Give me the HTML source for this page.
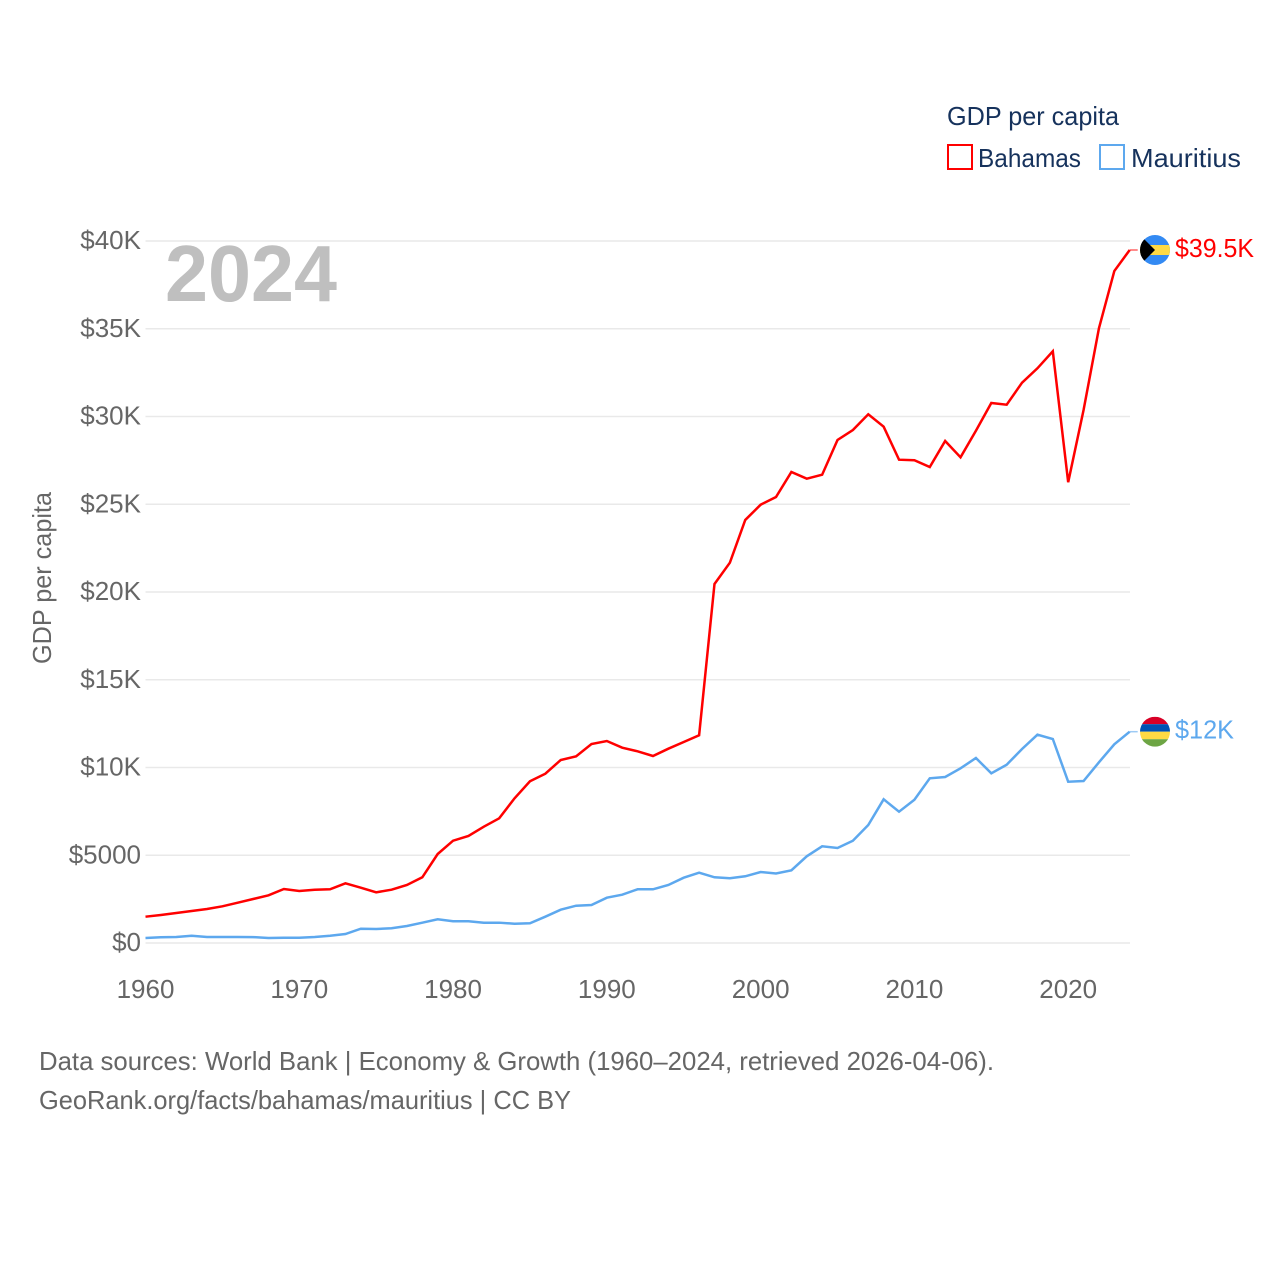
<!DOCTYPE html>
<html lang="en">
<head>
<meta charset="utf-8">
<title>GDP per capita: Bahamas and Mauritius</title>
<style>
html,body{margin:0;padding:0;background:#fff;width:1280px;height:1280px;overflow:hidden}
svg{display:block}
text{font-family:"Liberation Sans",sans-serif;font-size:26px}
</style>
</head>
<body>
<svg id="chart" xmlns="http://www.w3.org/2000/svg" width="1280" height="1280" viewBox="0 0 1280 1280">
  <defs>
    <clipPath id="clip-bs"><circle id="clip-bs-circle" r="15"></circle></clipPath>
    <clipPath id="clip-mu"><circle id="clip-mu-circle" r="15"></circle></clipPath>
  </defs>
  <g id="grid"></g>
  <g id="ytick-labels"></g>
  <g id="xtick-labels"></g>
  <text x="165" y="301" textLength="172" lengthAdjust="spacingAndGlyphs" style="font-size:80px;font-weight:bold" fill="#bfbfbf">2024</text>
  <text transform="translate(51,664) rotate(-90)" textLength="172" lengthAdjust="spacingAndGlyphs" fill="#666666">GDP per capita</text>
  <g id="series"></g>
  <g id="flags"></g>

  <text x="947" y="125" textLength="172" lengthAdjust="spacingAndGlyphs" fill="#16325c">GDP per capita</text>
  <rect x="948" y="145" width="24" height="24" fill="none" stroke="#ff0000" stroke-width="2"></rect>
  <text x="978" y="167" textLength="103" lengthAdjust="spacingAndGlyphs" fill="#16325c">Bahamas</text>
  <rect x="1100" y="145" width="24" height="24" fill="none" stroke="#5da8ee" stroke-width="2"></rect>
  <text x="1131" y="167" textLength="110" lengthAdjust="spacingAndGlyphs" fill="#16325c">Mauritius</text>

  <text x="39" y="1070" textLength="955" lengthAdjust="spacingAndGlyphs" fill="#666666">Data sources: World Bank | Economy &amp; Growth (1960–2024, retrieved 2026-04-06).</text>
  <text x="39" y="1109" textLength="532" lengthAdjust="spacingAndGlyphs" fill="#666666">GeoRank.org/facts/bahamas/mauritius | CC BY</text>
</svg>
<script>
const years = [1960,1961,1962,1963,1964,1965,1966,1967,1968,1969,1970,1971,1972,1973,1974,1975,1976,1977,1978,1979,1980,1981,1982,1983,1984,1985,1986,1987,1988,1989,1990,1991,1992,1993,1994,1995,1996,1997,1998,1999,2000,2001,2002,2003,2004,2005,2006,2007,2008,2009,2010,2011,2012,2013,2014,2015,2016,2017,2018,2019,2020,2021,2022,2023,2024];
const bahamas = [1499,1595,1709,1823,1937,2091,2296,2507,2718,3077,2963,3037,3060,3402,3151,2889,3037,3305,3744,5071,5829,6097,6627,7105,8245,9214,9647,10427,10638,11339,11510,11128,10923,10655,11071,11453,11835,20456,21669,24103,24974,25413,26838,26456,26684,28661,29231,30125,29419,27538,27510,27122,28604,27675,29191,30769,30672,31926,32746,33715,26251,30370,35026,38291,39487];
const mauritius = [285,325,342,416,342,342,342,335,285,302,302,342,416,513,815,798,838,969,1157,1350,1242,1236,1157,1157,1100,1122,1499,1897,2125,2165,2581,2752,3060,3060,3305,3721,4006,3744,3687,3801,4046,3960,4142,4940,5510,5413,5829,6724,8188,7481,8165,9385,9459,9954,10541,9670,10160,11054,11869,11624,9191,9231,10296,11322,12040];
const yTickValues = [0,5000,10000,15000,20000,25000,30000,35000,40000];
const yTickLabels = ["$0","$5000","$10K","$15K","$20K","$25K","$30K","$35K","$40K"];
const xTickYears = [1960,1970,1980,1990,2000,2010,2020];
const valueLabelBahamas = "$39.5K";
const valueLabelMauritius = "$12K";

const NS = "http://www.w3.org/2000/svg";
function xScale(year){ return 145.5 + (year - 1960) * (1129.7 - 145.5) / (2024 - 1960); }
function yScale(value){ return 943 - value * (943 - 241) / 40000; }
function make(tag, attrs, parent){
  const el = document.createElementNS(NS, tag);
  for (const k in attrs) el.setAttribute(k, attrs[k]);
  parent.appendChild(el);
  return el;
}

const grid = document.getElementById('grid');
const yLabels = document.getElementById('ytick-labels');
const xLabels = document.getElementById('xtick-labels');
const seriesGroup = document.getElementById('series');
const flags = document.getElementById('flags');

yTickValues.forEach(function(v, i){
  const line = make('line', {x1:xScale(1960), x2:1130, y1:yScale(v), y2:yScale(v), stroke:'#e9e9e9', 'stroke-width':1.5}, grid);
  
  
  const t = make('text', {x:141, y:yScale(v)+8, 'text-anchor':'end', fill:'#666666'}, yLabels);
  
  
  t.textContent = yTickLabels[i];
});

xTickYears.forEach(function(y){
  const t = make('text', {x:xScale(y), y:998, 'text-anchor':'middle', fill:'#666666'}, xLabels);
  
  
  t.textContent = y;
});

function pointsFor(values){
  return values.map(function(v, i){ return xScale(years[i]).toFixed(2) + ',' + yScale(v).toFixed(2); }).join(' ');
}

const lineBs = make('polyline', {points:pointsFor(bahamas), fill:'none', stroke:'#ff0000', 'stroke-width':2.5, 'stroke-linejoin':'miter'}, seriesGroup);


const lineMu = make('polyline', {points:pointsFor(mauritius), fill:'none', stroke:'#5da8ee', 'stroke-width':2.5, 'stroke-linejoin':'miter'}, seriesGroup);



const lastX = xScale(years[years.length - 1]);
const yBs = yScale(bahamas[bahamas.length - 1]);
const yMu = yScale(mauritius[mauritius.length - 1]);
const flagX = lastX + 25.3;

const connBs = make('line', {x1:lastX, x2:lastX+8, y1:yBs, y2:yBs, stroke:'#ff0000', 'stroke-width':1.5, opacity:0.6}, seriesGroup);


const connMu = make('line', {x1:lastX, x2:lastX+8, y1:yMu, y2:yMu, stroke:'#5da8ee', 'stroke-width':1.5, opacity:0.6}, seriesGroup);



/* Bahamas flag */
const clipBs = document.getElementById('clip-bs-circle');
clipBs.setAttribute('cx', flagX);
clipBs.setAttribute('cy', yBs);
const gBs = make('g', {'clip-path':'url(#clip-bs)'}, flags);


make('rect', {x:flagX-15, y:yBs-15, width:30, height:30, fill:'#338af3'}, gBs);
make('rect', {x:flagX-15, y:yBs-5, width:30, height:10, fill:'#ffda44'}, gBs);
make('polygon', {points:(flagX-15)+','+(yBs-15)+' '+flagX+','+yBs+' '+(flagX-15)+','+(yBs+15), fill:'#000000'}, gBs);

/* Mauritius flag */
const clipMu = document.getElementById('clip-mu-circle');
clipMu.setAttribute('cx', flagX);
clipMu.setAttribute('cy', yMu);
const gMu = make('g', {'clip-path':'url(#clip-mu)'}, flags);


make('rect', {x:flagX-15, y:yMu-15, width:30, height:7.5, fill:'#d80027'}, gMu);
make('rect', {x:flagX-15, y:yMu-7.5, width:30, height:7.5, fill:'#0052b4'}, gMu);
make('rect', {x:flagX-15, y:yMu, width:30, height:7.5, fill:'#ffda44'}, gMu);
make('rect', {x:flagX-15, y:yMu+7.5, width:30, height:7.5, fill:'#6da544'}, gMu);

const valBs = make('text', {x:1175, y:yBs+7, fill:'#ff0000', textLength:79, lengthAdjust:'spacingAndGlyphs'}, flags);


valBs.textContent = valueLabelBahamas;
const valMu = make('text', {x:1175, y:yMu+7, fill:'#5da8ee', textLength:59, lengthAdjust:'spacingAndGlyphs'}, flags);


valMu.textContent = valueLabelMauritius;
</script>
</body>
</html>
